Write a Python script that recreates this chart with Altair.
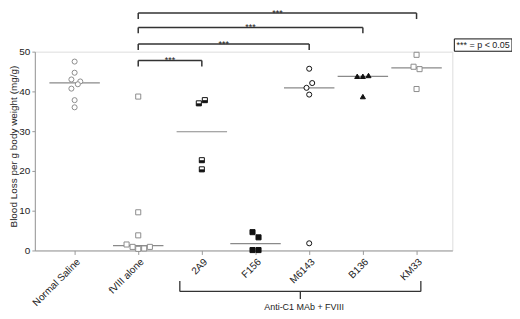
import altair as alt
import pandas as pd

# ---- data ----
groups = ["Normal Saline", "fVIII alone", "2A9", "F156", "M6143", "B136", "KM33"]
group_slot = [0.0, 1.185, 2.370, 3.370, 4.370, 5.370, 6.370]

saline_vals = [47.5, 44.7, 43.0, 42.5, 41.8, 40.7, 37.8, 36.0]
saline_jit = [0, 0, -0.06, 0.105, 0.06, -0.06, 0, 0]
fviii_vals = [38.7, 9.6, 3.8, 1.5, 0.9, 0.4, 0.5, 0.9]
fviii_jit = [0, 0, 0, -0.217, -0.105, 0, 0.111, 0.217]
a2a9_vals = [37.0, 37.8, 22.7, 20.4]
a2a9_jit = [-0.056, 0.056, 0, 0]
f156_vals = [4.6, 3.3, 0.1, 0.1]
f156_jit = [-0.056, 0.056, -0.056, 0.056]
m6143_vals = [45.7, 42.1, 40.9, 39.2, 1.8]
m6143_jit = [0, 0.056, -0.05, 0, 0]
b136_vals = [43.8, 43.8, 44.0, 38.7]
b136_jit = [-0.105, 0, 0.105, 0]
km33_vals = [49.2, 46.2, 45.6, 40.6]
km33_jit = [0, -0.056, 0.056, 0]

comp_targets = ["2A9", "M6143", "B136", "KM33"]
comp_levels = [47.75, 51.9, 56.1, 59.7]
comp_label = "***"
legend_text = "*** = p < 0.05"
group_bracket_text = "Anti-C1 MAb + FVIII"
y_ticks = [0, 10, 20, 30, 40, 50]

# ---- tables ----
series = [saline_vals, fviii_vals, a2a9_vals, f156_vals, m6143_vals, b136_vals, km33_vals]
jits = [saline_jit, fviii_jit, a2a9_jit, f156_jit, m6143_jit, b136_jit, km33_jit]
rows = []
for g, s, vals, jj in zip(groups, group_slot, series, jits):
    for v, j in zip(vals, jj):
        rows.append({"group": g, "slot": s, "value": v, "x": s + j})
pts = pd.DataFrame(rows)

slot_of = dict(zip(groups, group_slot))
base_slot = slot_of["fVIII alone"]
comp = pd.DataFrame({
    "x": [base_slot] * len(comp_targets),
    "x2": [slot_of[t] for t in comp_targets],
    "y": comp_levels,
    "y2": [l - 1.5 for l in comp_levels],
    "xm": [(base_slot + slot_of[t]) / 2 for t in comp_targets],
    "label": [comp_label] * len(comp_targets),
})

bl = slot_of["2A9"] - 0.41
br = slot_of["KM33"] + 0.08
bc = (bl + br) / 2
brk_h = pd.DataFrame({"x": [bl], "x2": [br], "y": [-10.3]})
brk_v = pd.DataFrame({"x": [bl, br, bc], "y": [-7.66, -7.66, -10.3], "y2": [-10.3, -10.3, -12.2]})
brk_t = pd.DataFrame({"x": [bc + 0.07], "y": [-14.2], "label": [group_bracket_text]})

leg_box = pd.DataFrame({"x": [7.074], "x2": [8.148], "y": [53.2], "y2": [50.1]})
leg_txt = pd.DataFrame({"x": [7.611], "y": [51.65], "label": [legend_text]})

# ---- scales & axes ----
FONT = "Liberation Sans"
xscale = alt.Scale(domain=[-0.741, 7.037], nice=False, zero=False)
yscale = alt.Scale(domain=[0, 50], nice=False, zero=False)

label_expr = " : ".join(
    [f"abs(datum.value-{s})<0.01 ? '{g}'" for g, s in zip(groups, group_slot)]
) + " : ''"

xaxis = alt.Axis(values=group_slot, labelExpr=label_expr, labelAngle=-45, labelAlign="right",
                 labelBaseline="top", labelFontSize=10, labelColor="#222", labelFont=FONT,
                 tickSize=4, tickColor="#999", domainColor="#999", grid=False, title=None,
                 labelPadding=2, labelOverlap=False)
yaxis = alt.Axis(values=y_ticks, labelFontSize=10, labelColor="#222", labelFont=FONT,
                 tickSize=3, tickColor="#999", domainColor="#999", grid=False, labelPadding=2,
                 title="Blood Loss per g body weight (mg/g)", titleFont=FONT, titleFontSize=10,
                 titleFontWeight="normal", titleColor="#222", titleX=-21, titleY=95,
                 titleBaseline="middle", titleAlign="center", titleAngle=270)


def X(f):
    return alt.X(f"{f}:Q", scale=xscale, axis=xaxis)


def Y(f):
    return alt.Y(f"{f}:Q", scale=yscale, axis=yaxis)


# ---- layers ----
medians = alt.Chart(pts).transform_aggregate(
    med="median(value)", groupby=["group", "slot"]
).transform_calculate(xa="datum.slot-0.47", xb="datum.slot+0.47").mark_rule(
    color="#8a8a8a", strokeWidth=1.2
).encode(x=X("xa"), x2="xb:Q", y=Y("med"))

shapes = ["circle", "square", "square", "square", "circle", "triangle-up", "square"]
strokes = ["#8c8c8c", "#8c8c8c", "#111", "#111", "#111", "#111", "#8c8c8c"]
fills = ["white", "white", "white", "#111", "white", "#111", "white"]
sws = [1, 1, 1, 1, 1.6, 1, 1]

points = alt.Chart(pts).mark_point(filled=True, size=26, opacity=1).encode(
    x=X("x"), y=Y("value"),
    shape=alt.Shape("group:N", scale=alt.Scale(domain=groups, range=shapes), legend=None),
    stroke=alt.Stroke("group:N", scale=alt.Scale(domain=groups, range=strokes), legend=None),
    fill=alt.Fill("group:N", scale=alt.Scale(domain=groups, range=fills), legend=None),
    strokeWidth=alt.StrokeWidth("group:N", scale=alt.Scale(domain=groups, range=sws), legend=None),
)

half = alt.Chart(pts).transform_filter(alt.datum.group == "2A9").mark_point(
    filled=True, size=26, shape="M-1,0H1V1H-1Z", color="#111", opacity=1
).encode(x=X("x"), y=Y("value"))

bcol = "#333"
comp_h = alt.Chart(comp).mark_rule(color=bcol, strokeWidth=1.5).encode(x=X("x"), x2="x2:Q", y=Y("y"))
comp_l = alt.Chart(comp).mark_rule(color=bcol, strokeWidth=1.5).encode(x=X("x"), y=Y("y"), y2="y2:Q")
comp_r = alt.Chart(comp).mark_rule(color=bcol, strokeWidth=1.5).encode(x=X("x2"), y=Y("y"), y2="y2:Q")
comp_t = alt.Chart(comp).mark_text(font=FONT, fontSize=9, color="#222", dy=2.5,
                                   baseline="alphabetic").encode(x=X("xm"), y=Y("y"), text="label:N")

g_h = alt.Chart(brk_h).mark_rule(color=bcol, strokeWidth=1.3).encode(x=X("x"), x2="x2:Q", y=Y("y"))
g_v = alt.Chart(brk_v).mark_rule(color=bcol, strokeWidth=1.3).encode(x=X("x"), y=Y("y"), y2="y2:Q")
g_t = alt.Chart(brk_t).mark_text(font=FONT, fontSize=9, color="#222", baseline="middle").encode(
    x=X("x"), y=Y("y"), text="label:N")

lb = alt.Chart(leg_box).mark_rect(fill="white", stroke="#111", strokeWidth=1).encode(
    x=X("x"), x2="x2:Q", y=Y("y"), y2="y2:Q")
lt = alt.Chart(leg_txt).mark_text(font=FONT, fontSize=9, color="#222", baseline="middle").encode(
    x=X("x"), y=Y("y"), text="label:N")

chart = alt.layer(
    medians, points, half, comp_h, comp_l, comp_r, comp_t, g_h, g_v, g_t, lb, lt
).properties(
    width=420, height=200,
    autosize=alt.AutoSizeParams(type="none"),
    padding={"left": 27, "top": 43, "right": 60, "bottom": 60},
).configure_view(stroke=None).configure(background="white")

chart.save("out.html", embed_options={"renderer": "svg", "actions": False})
